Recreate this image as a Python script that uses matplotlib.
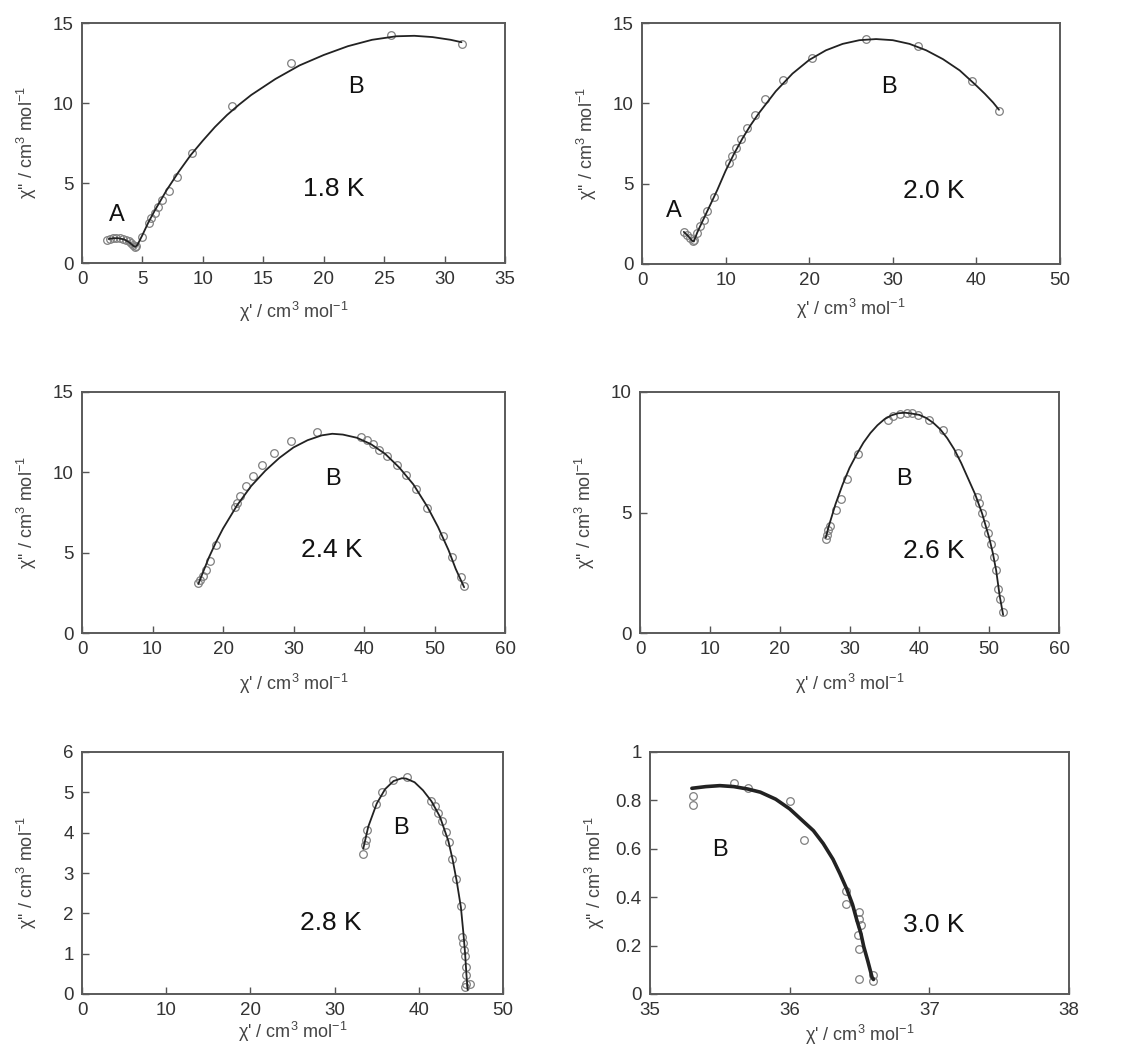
import matplotlib
matplotlib.use("Agg")
import matplotlib.pyplot as plt

plt.rcParams['font.family'] = ['Liberation Sans', 'DejaVu Sans']
plt.rcParams['mathtext.fontset'] = 'custom'
plt.rcParams['mathtext.rm'] = 'Liberation Sans'
plt.rcParams['mathtext.it'] = 'Liberation Sans:italic'

# ---------------- data: 1.8 K ----------------
x18 = [2.07, 2.35, 2.57, 2.85, 3.12, 3.40, 3.67, 3.90, 4.08, 4.25, 4.36, 4.50, 5.0, 5.55, 5.74, 6.02, 6.29, 6.65, 7.18, 7.89, 9.14, 12.42, 17.28, 25.53, 31.41]
y18 = [1.45, 1.52, 1.56, 1.56, 1.56, 1.52, 1.45, 1.36, 1.25, 1.12, 1.00, 1.04, 1.62, 2.53, 2.80, 3.12, 3.49, 3.93, 4.47, 5.36, 6.86, 9.81, 12.51, 14.23, 13.67]
fx18 = [2.2, 2.6, 3.0, 3.5, 3.9, 4.2, 4.4, 4.6, 5.0, 5.5, 6.0, 7.0, 8.0, 9.0, 10.0, 11.0, 12.0, 13.0, 14.0, 16.0, 18.0, 20.0, 22.0, 24.0, 26.0, 27.5, 29.0, 30.5, 31.4]
fy18 = [1.50, 1.55, 1.55, 1.47, 1.30, 1.10, 1.00, 1.15, 1.75, 2.55, 3.25, 4.55, 5.70, 6.75, 7.65, 8.50, 9.25, 9.90, 10.50, 11.50, 12.35, 13.00, 13.55, 13.95, 14.17, 14.20, 14.12, 13.95, 13.80]

# ---------------- data: 2.0 K ----------------
x20 = [5.06, 5.38, 5.78, 6.06, 6.18, 6.57, 6.97, 7.37, 7.77, 8.57, 10.36, 10.76, 11.27, 11.87, 12.55, 13.47, 14.74, 16.81, 20.32, 26.81, 32.99, 39.48, 42.75]
y20 = [1.99, 1.82, 1.61, 1.41, 1.47, 1.92, 2.34, 2.75, 3.27, 4.16, 6.27, 6.72, 7.22, 7.76, 8.44, 9.25, 10.26, 11.44, 12.83, 14.01, 13.57, 11.38, 9.54]
fx20 = [5.0, 5.5, 6.0, 6.2, 6.6, 7.0, 7.5, 8.0, 9.0, 10.0, 11.0, 12.0, 13.0, 14.0, 16.0, 18.0, 20.0, 22.0, 24.0, 26.0, 28.0, 30.0, 32.0, 34.0, 36.0, 38.0, 40.0, 41.0, 42.0, 42.7]
fy20 = [2.00, 1.75, 1.45, 1.40, 1.95, 2.40, 2.95, 3.50, 4.60, 5.80, 6.85, 7.80, 8.65, 9.40, 10.75, 11.85, 12.70, 13.30, 13.70, 13.93, 14.00, 13.93, 13.70, 13.30, 12.75, 12.05, 11.10, 10.60, 10.05, 9.60]

# ---------------- data: 2.4 K ----------------
x24 = [16.47, 16.70, 17.18, 17.65, 18.13, 18.98, 21.67, 22.00, 22.48, 23.33, 24.28, 25.56, 27.26, 29.58, 33.32, 39.52, 40.37, 41.22, 42.12, 43.30, 44.63, 45.95, 47.37, 48.98, 51.25, 52.53, 53.71, 54.19]
y24 = [3.11, 3.28, 3.53, 3.94, 4.50, 5.46, 7.82, 8.09, 8.51, 9.13, 9.79, 10.48, 11.20, 11.97, 12.51, 12.18, 12.03, 11.74, 11.41, 11.02, 10.48, 9.85, 8.96, 7.78, 6.02, 4.71, 3.49, 2.90]
fx24 = [16.5, 17.0, 18.0, 19.0, 20.0, 22.0, 24.0, 26.0, 28.0, 30.0, 32.0, 34.0, 35.5, 37.0, 39.0, 41.0, 43.0, 45.0, 47.0, 49.0, 50.5, 52.0, 53.0, 54.2]
fy24 = [3.05, 3.60, 4.70, 5.65, 6.50, 7.95, 9.15, 10.10, 10.90, 11.55, 12.00, 12.30, 12.40, 12.35, 12.15, 11.75, 11.15, 10.30, 9.25, 7.85, 6.60, 5.15, 4.00, 2.85]

# ---------------- data: 2.6 K ----------------
x26 = [26.59, 26.73, 26.97, 27.21, 28.07, 28.74, 29.59, 31.26, 35.47, 36.28, 37.23, 38.19, 38.90, 39.86, 41.43, 43.44, 45.58, 48.21, 48.59, 49.02, 49.40, 49.88, 50.26, 50.69, 50.98, 51.31, 51.55, 51.93]
y26 = [3.92, 4.06, 4.26, 4.46, 5.10, 5.58, 6.38, 7.43, 8.85, 8.99, 9.07, 9.13, 9.13, 9.06, 8.85, 8.43, 7.46, 5.65, 5.38, 4.96, 4.54, 4.13, 3.71, 3.15, 2.60, 1.83, 1.42, 0.86]
fx26 = [26.6, 27.0, 28.0, 29.0, 30.0, 31.0, 32.0, 33.0, 34.0, 35.0, 36.0, 37.0, 38.0, 39.0, 40.0, 41.0, 42.0, 43.0, 44.0, 45.0, 46.0, 47.0, 48.0, 49.0, 50.0, 50.5, 51.0, 51.5, 52.0]
fy26 = [3.95, 4.40, 5.35, 6.15, 6.85, 7.40, 7.90, 8.30, 8.62, 8.87, 9.03, 9.12, 9.14, 9.10, 9.05, 8.92, 8.72, 8.45, 8.08, 7.62, 7.05, 6.40, 5.75, 4.95, 3.95, 3.35, 2.60, 1.55, 0.75]

# ---------------- data: 2.8 K ----------------
x28 = [33.37, 33.57, 33.69, 33.89, 34.96, 35.67, 36.94, 38.60, 41.49, 41.88, 42.28, 42.76, 43.19, 43.55, 43.98, 44.46, 44.97, 45.13, 45.25, 45.37, 45.49, 45.57, 45.64, 45.57, 45.53, 46.12]
y28 = [3.48, 3.70, 3.82, 4.07, 4.71, 5.02, 5.31, 5.38, 4.78, 4.67, 4.50, 4.28, 4.01, 3.76, 3.35, 2.85, 2.19, 1.42, 1.26, 1.09, 0.93, 0.68, 0.47, 0.26, 0.18, 0.25]
fx28 = [33.4, 34.0, 35.0, 36.0, 37.0, 38.0, 38.5, 39.5, 40.5, 41.5, 42.5, 43.5, 44.0, 44.5, 45.0, 45.3, 45.5, 45.65, 45.8]
fy28 = [3.60, 4.15, 4.72, 5.08, 5.28, 5.35, 5.34, 5.25, 5.05, 4.78, 4.40, 3.80, 3.35, 2.80, 2.15, 1.50, 1.00, 0.50, 0.10]

# ---------------- data: 3.0 K ----------------
x30 = [35.305, 35.305, 35.60, 35.70, 36.00, 36.10, 36.40, 36.40, 36.50, 36.50, 36.51, 36.49, 36.50, 36.50, 36.60, 36.60]
y30 = [0.82, 0.78, 0.871, 0.852, 0.796, 0.637, 0.425, 0.373, 0.339, 0.31, 0.287, 0.242, 0.187, 0.062, 0.079, 0.054]
fx30 = [35.30, 35.40, 35.50, 35.60, 35.70, 35.79, 35.90, 36.00, 36.10, 36.17, 36.24, 36.31, 36.36, 36.41, 36.45, 36.48, 36.51, 36.53, 36.56, 36.59, 36.60]
fy30 = [0.850, 0.857, 0.861, 0.857, 0.847, 0.834, 0.805, 0.765, 0.712, 0.675, 0.622, 0.557, 0.497, 0.432, 0.370, 0.307, 0.250, 0.197, 0.135, 0.069, 0.060]

# ---------------- axis settings ----------------
xlims = [(0, 35), (0, 50), (0, 60), (0, 60), (0, 50), (35, 38)]
ylims = [(0, 15), (0, 15), (0, 15), (0, 10), (0, 6), (0, 1)]
xticks = [[0, 5, 10, 15, 20, 25, 30, 35], [0, 10, 20, 30, 40, 50], [0, 10, 20, 30, 40, 50, 60],
          [0, 10, 20, 30, 40, 50, 60], [0, 10, 20, 30, 40, 50], [35, 36, 37, 38]]
yticks = [[0, 5, 10, 15], [0, 5, 10, 15], [0, 5, 10, 15], [0, 5, 10], [0, 1, 2, 3, 4, 5, 6],
          [0, 0.2, 0.4, 0.6, 0.8, 1]]
yticklabels = [None, None, None, None, None, ['0', '0.2', '0.4', '0.6', '0.8', '1']]
temps = ['1.8 K', '2.0 K', '2.4 K', '2.6 K', '2.8 K', '3.0 K']
temp_pos = [(20.8, 4.6), (34.9, 4.57), (35.4, 5.15), (42.1, 3.4), (29.6, 1.75), (37.03, 0.287)]
b_pos = [(22.7, 11.0), (29.5, 11.0), (35.6, 9.58), (37.85, 6.37), (37.9, 4.11), (35.50, 0.594)]
a_pos = [(2.9, 3.0), (3.86, 3.27), None, None, None, None]

pts_x = [x18, x20, x24, x26, x28, x30]
pts_y = [y18, y20, y24, y26, y28, y30]
fit_x = [fx18, fx20, fx24, fx26, fx28, fx30]
fit_y = [fy18, fy20, fy24, fy26, fy28, fy30]

W, H = 1125, 1050
boxes = [(82, 23, 505, 263), (642, 23, 1060, 264), (82, 392, 505, 633),
         (640, 392, 1059, 633), (82, 752, 503, 994), (650, 752, 1069, 994)]
xlab_top = [37, 33, 39, 39, 26, 29]
fit_lw = [1.3, 1.3, 1.3, 1.3, 1.3, 2.6]

fig = plt.figure(figsize=(W / 100, H / 100), dpi=100)
for i in range(6):
    l, t, r, b = boxes[i]
    ax = fig.add_axes([l / W, 1 - b / H, (r - l) / W, (b - t) / H])
    ax.plot(fit_x[i], fit_y[i], color='#222222', lw=fit_lw[i], zorder=3,
            solid_capstyle='round', solid_joinstyle='round')
    ax.plot(pts_x[i], pts_y[i], ls='none', marker='o', ms=5.5, mfc='none', mec='#808080', mew=0.9, zorder=2)
    ax.set_xlim(*xlims[i])
    ax.set_ylim(*ylims[i])
    ax.set_xticks(xticks[i])
    ax.set_yticks(yticks[i])
    if yticklabels[i] is not None:
        ax.set_yticklabels(yticklabels[i])
    ax.tick_params(direction='in', length=5, width=1.0, color='#555555', labelsize=13.5,
                   labelcolor='#333333', pad=6)
    for s in ax.spines.values():
        s.set_color('#5a5a5a')
        s.set_linewidth(1.4)
    ax.set_xlabel("χ' / cm$^3$ mol$^{-1}$", fontsize=13, color='#444444')
    ax.set_ylabel("χ'' / cm$^3$ mol$^{-1}$", fontsize=13, color='#444444')
    hpx = b - t
    wpx = r - l
    ax.xaxis.set_label_coords(0.5, -xlab_top[i] / hpx)
    ax.yaxis.set_label_coords(-43 / wpx, 0.5)
    ax.text(*temp_pos[i], temps[i], fontsize=19, ha='center', va='center', color='#111111')
    ax.text(*b_pos[i], 'B', fontsize=17, ha='center', va='center', color='#111111')
    if a_pos[i] is not None:
        ax.text(*a_pos[i], 'A', fontsize=17, ha='center', va='center', color='#111111')

fig.savefig('out.png', dpi=100, facecolor='white')
